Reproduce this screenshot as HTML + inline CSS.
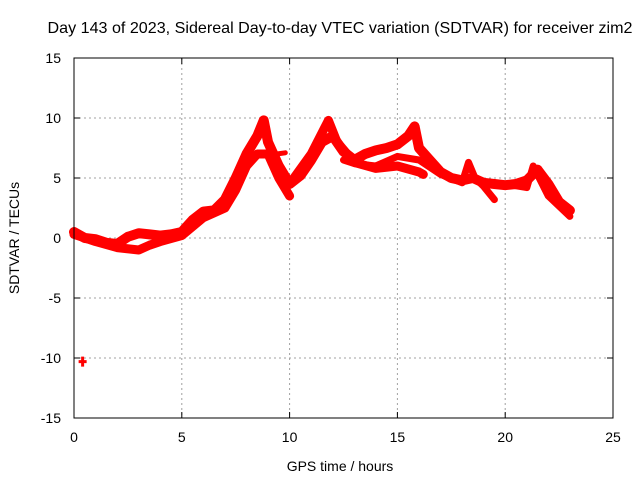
<!DOCTYPE html>
<html><head><meta charset="utf-8"><style>
body{margin:0;background:#fff}
svg text{font-family:"Liberation Sans",sans-serif;font-size:14px;fill:#000}
</style></head><body>
<svg width="640" height="480" xmlns="http://www.w3.org/2000/svg">
<text x="340" y="33" text-anchor="middle" style="font-size:16px" textLength="585" lengthAdjust="spacingAndGlyphs">Day 143 of 2023, Sidereal Day-to-day VTEC variation (SDTVAR) for receiver zim2</text>
<g id="grid"></g>
<g id="ticks"></g>
<g id="series"></g>
<rect x="74" y="58" width="539" height="360" fill="none" stroke="#000" stroke-width="1"/>
<text x="340" y="471" text-anchor="middle">GPS time / hours</text>
<text transform="translate(19,238) rotate(-90)" text-anchor="middle">SDTVAR / TECUs</text>
</svg>
<script>
const xTicks=[0,5,10,15,20,25];
const yTicks=[-15,-10,-5,0,5,10,15];
const trackAX=[0,0.5,1,1.5,2,2.5,3,3.5,4,4.5,5,5.5,6,6.5,7,7.5,8,8.5,8.8,9,9.5,10,10.5,11,11.5,12,12.5,13,13.5,14,14.5,15,15.5,15.8,16,16.5,17,17.5,18,18.5,19,19.5,20,20.5,21,21.5,22,22.5,23];
const trackAY=[0.5,0,-0.1,-0.4,-0.5,0.1,0.4,0.3,0.2,0.3,0.5,1.5,2.2,2.3,3.2,5,7,8.5,9.8,8,6,4.5,5.2,6.5,8,8.5,7.2,6.5,7,7.3,7.5,7.8,8.5,9.3,7.5,6.5,5.5,5,4.8,5,4.6,4.5,4.4,4.5,4.8,5.7,4.5,3,2.3];
const trackBX=[0,1,2,3,3.5,4,5,6,7,7.5,8,8.5,9,9.5,10];
const trackBY=[0.3,-0.3,-0.8,-1,-0.6,-0.3,0.2,1.7,2.5,4,6,7,7,5,3.5];
const trackCX=[10,11,11.8,12.2,13,14,15,16,16.2];
const trackCY=[4.5,7,9.8,8,6.3,5.8,6,5.5,5.3];
const trackDX=[12.5,13,14,15,16,17,18,18.3,18.6,19,19.5];
const trackDY=[6.5,6.2,6,6.8,6.5,5.3,4.6,6.3,5,4.3,3.2];
const trackEX=[20,21,21.3,22,23];
const trackEY=[4.5,4.2,6,3.5,1.8];
const trackFX=[9.1,9.4,9.8];
const trackFY=[6.2,7,7.1];
const outlierX=[0.4];
const outlierY=[-10.3];
const NS="http://www.w3.org/2000/svg";
const xs=v=>74+v*539/25;
const ys=v=>238-v*12;
const grid=document.getElementById('grid'),ticks=document.getElementById('ticks'),ser=document.getElementById('series');
function mk(tag,attrs,parent){const e=document.createElementNS(NS,tag);for(const k in attrs)e.setAttribute(k,attrs[k]);parent.appendChild(e);return e;}
xTicks.forEach(t=>{const x=xs(t);
 if(t>0&&t<25){const l=mk('line',{x1:x,x2:x,y1:58,y2:418,stroke:'#a0a0a0','stroke-dasharray':'2,3'},grid);
 
 }
 mk('line',{x1:x,x2:x,y1:418,y2:412,stroke:'#000'},ticks);mk('line',{x1:x,x2:x,y1:58,y2:64,stroke:'#000'},ticks);
 const tx=mk('text',{x:x,y:442,'text-anchor':'middle'},ticks);tx.textContent=t;
 
 });
yTicks.forEach(t=>{const y=ys(t);
 if(t>-15&&t<15){const l=mk('line',{x1:74,x2:613,y1:y,y2:y,stroke:'#a0a0a0','stroke-dasharray':'2,3'},grid);
 
 }
 mk('line',{x1:74,x2:80,y1:y,y2:y,stroke:'#000'},ticks);mk('line',{x1:613,x2:607,y1:y,y2:y,stroke:'#000'},ticks);
 const tx=mk('text',{x:61,y:y+5,'text-anchor':'end'},ticks);tx.textContent=t;
 
 });
function track(X,Y,name,w){const d=X.map((v,i)=>(i?'L':'M')+xs(v).toFixed(1)+','+ys(Y[i]).toFixed(1)).join('');
 const p=mk('path',{d:d,fill:'none',stroke:'#ff0000','stroke-width':w,'stroke-linejoin':'round','stroke-linecap':'round'},ser);
 
 }
track(trackAX,trackAY,'track-a',10);
track(trackBX,trackBY,'track-b',9);
track(trackCX,trackCY,'track-c',9);
track(trackDX,trackDY,'track-d',7);
track(trackEX,trackEY,'track-e',7);
track(trackFX,trackFY,'track-f',5);
outlierX.forEach((v,i)=>{const x=xs(v),y=ys(outlierY[i]);
 const p=mk('path',{d:`M${x-4},${y}H${x+4}M${x},${y-5}V${y+5}`,stroke:'#ff0000','stroke-width':3},ser);
 
 });
</script>
</body></html>
